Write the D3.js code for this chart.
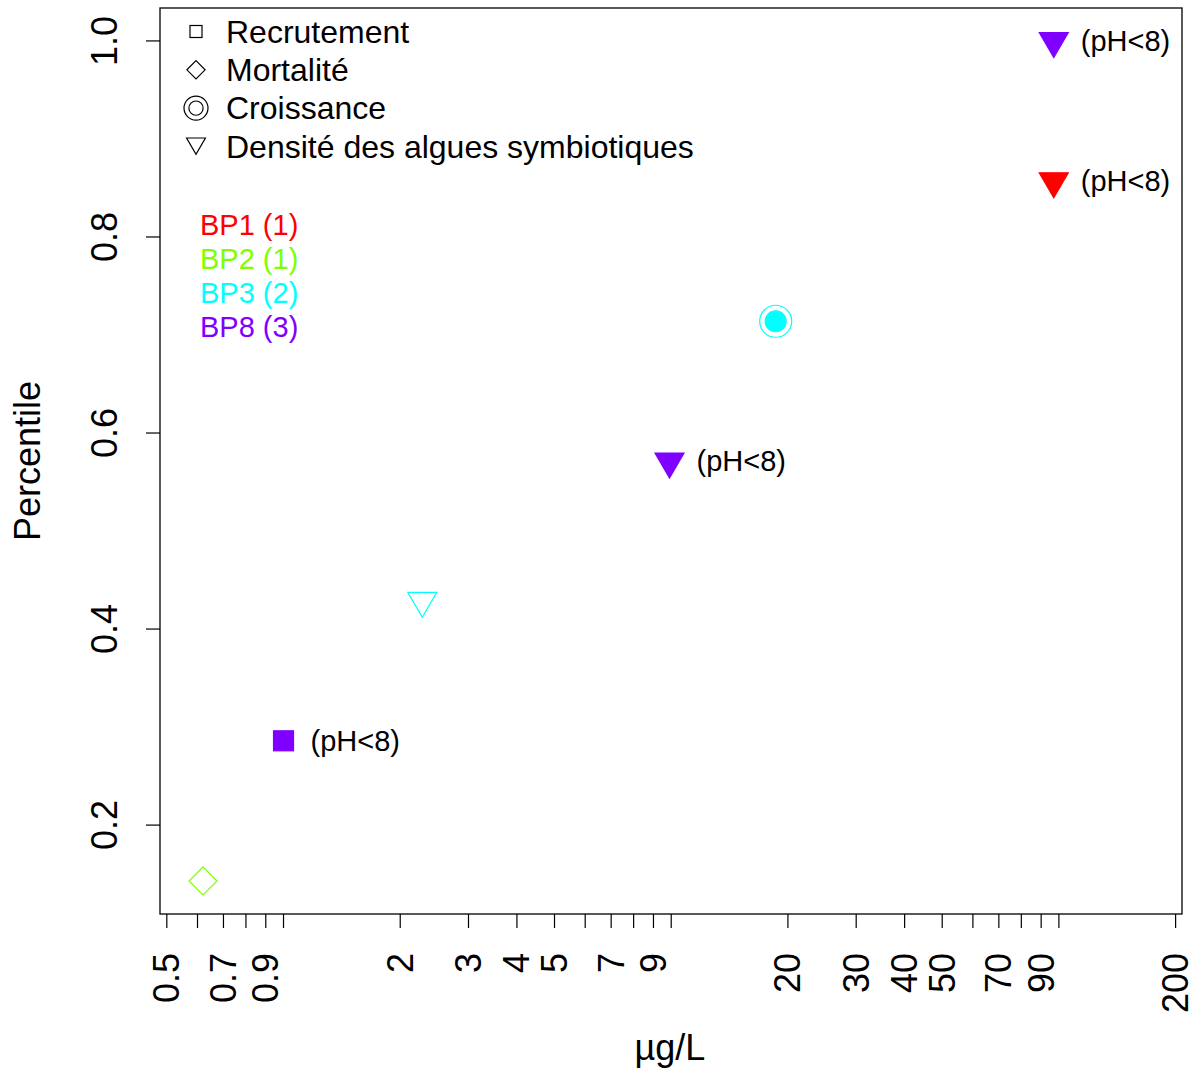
<!DOCTYPE html>
<html><head><meta charset="utf-8">
<script src="https://cdn.jsdelivr.net/npm/d3@7"></script>
<style>body{margin:0;background:#fff;} svg{display:block;} text{font-family:"Liberation Sans",Arial,sans-serif;}</style>
</head><body>
<svg id="chart" width="1198" height="1070"></svg>
<script>
// ---- data ----
const groups = ["BP1 (1)", "BP2 (1)", "BP3 (2)", "BP8 (3)"];
const groupColors = ["#FF0000", "#80FF00", "#00FFFF", "#8000FF"];
const endpoints = ["Recrutement", "Mortalité", "Croissance", "Densité des algues symbiotiques"];
const endpointShapes = ["square", "diamond", "circle", "triangle"];

const pointConc = [0.62, 1.0, 2.28, 9.9, 18.6, 97, 97];
const pointPct = [0.143, 0.286, 0.429, 0.571, 0.714, 0.857, 1.0];
const pointGroup = [1, 3, 2, 3, 2, 0, 3];
const pointEndpoint = [1, 0, 3, 3, 2, 3, 3];
const pointFilled = [false, true, false, true, true, true, true];
const pointNote = ["", "(pH<8)", "", "(pH<8)", "", "(pH<8)", "(pH<8)"];

const xTicks = [0.5,0.6,0.7,0.8,0.9,1,2,3,4,5,6,7,8,9,10,20,30,40,50,60,70,80,90,100,200];
const xTickLabels = {0.5:"0.5",0.7:"0.7",0.9:"0.9",2:"2",3:"3",4:"4",5:"5",7:"7",9:"9",20:"20",30:"30",40:"40",50:"50",70:"70",90:"90",200:"200"};
const yTicks = [0.2, 0.4, 0.6, 0.8, 1.0];
const yTickLabels = ["0.2", "0.4", "0.6", "0.8", "1.0"];

// ---- layout ----
const L = 160, R = 1182, T = 8, B = 914;
const svg = d3.select("#chart");
const x = d3.scaleLog().domain([Math.pow(10,-0.3186), Math.pow(10,2.3175)]).range([L, R]);
const y = d3.scaleLinear().domain([0.1093, 1.0336]).range([B, T]);

svg.append("rect").attr("x", L).attr("y", T).attr("width", R-L).attr("height", B-T)
  .attr("fill","none").attr("stroke","#000").attr("stroke-width",1.3);

// x axis
const xAxis = svg.append("g");
xTicks.forEach(t => {
  const px = x(t);
  xAxis.append("line").attr("x1",px).attr("x2",px).attr("y1",B).attr("y2",B+14).attr("stroke","#000").attr("stroke-width",1.2);
  if (xTickLabels[t]) {
    xAxis.append("text").attr("transform",`translate(${px+12.5},953) rotate(-90)`)
      .attr("text-anchor","end").attr("font-size",36).text(xTickLabels[t]);
  }
});
// y axis
yTicks.forEach((t,i) => {
  const py = y(t);
  svg.append("line").attr("x1",L-14).attr("x2",L).attr("y1",py).attr("y2",py).attr("stroke","#000").attr("stroke-width",1.2);
  svg.append("text").attr("transform",`translate(117,${py}) rotate(-90)`)
    .attr("text-anchor","middle").attr("font-size",36).text(yTickLabels[i]);
});
svg.append("text").attr("transform","translate(40,461) rotate(-90)").attr("text-anchor","middle").attr("font-size",36).text("Percentile");
svg.append("text").attr("x",670).attr("y",1060).attr("text-anchor","middle").attr("font-size",36).text("µg/L");

// symbol drawing
function drawSymbol(g, shape, cx, cy, s, color, filled) {
  const fill = filled ? color : "none";
  if (shape === "square") {
    g.append("rect").attr("x",cx-s).attr("y",cy-s).attr("width",2*s).attr("height",2*s)
      .attr("fill",fill).attr("stroke",color).attr("stroke-width",1.2);
  } else if (shape === "diamond") {
    const d = s*1.4;
    g.append("path").attr("d",`M${cx},${cy-d}L${cx+d},${cy}L${cx},${cy+d}L${cx-d},${cy}Z`)
      .attr("fill",fill).attr("stroke",color).attr("stroke-width",1.2);
  } else if (shape === "triangle") {
    const w = s*1.45, h = s*2.5;
    g.append("path").attr("d",`M${cx-w},${cy-h/3}L${cx+w},${cy-h/3}L${cx},${cy+2*h/3}Z`)
      .attr("fill",fill).attr("stroke",color).attr("stroke-width",1.2);
  } else if (shape === "circle") {
    g.append("circle").attr("cx",cx).attr("cy",cy).attr("r",s*1.6).attr("fill","none").attr("stroke",color).attr("stroke-width",1.2);
    g.append("circle").attr("cx",cx).attr("cy",cy).attr("r",s*(filled?1.05:0.95)).attr("fill",fill).attr("stroke",color).attr("stroke-width",1.2);
  }
}

// legend (endpoints)
const leg = svg.append("g");
endpoints.forEach((e,i) => {
  const cy = 31.5 + i*38.3;
  const sz = {square:6, diamond:6.5, circle:7.5, triangle:6.5}[endpointShapes[i]];
  drawSymbol(leg, endpointShapes[i], 196, endpointShapes[i]==="triangle"? cy-3 : cy, sz, "#000", false);
  leg.append("text").attr("x",226).attr("y",cy+11.2).attr("font-size",32).text(e);
});
// legend (groups)
groups.forEach((gname,i) => {
  const cy = 225 + i*34;
  svg.append("text").attr("x",200).attr("y",cy+10.3).attr("font-size",29).attr("fill",groupColors[i]).text(gname);
});

// points
const pts = svg.append("g");
pointConc.forEach((c,i) => {
  const cx = x(c), cy = y(pointPct[i]);
  const shape = endpointShapes[pointEndpoint[i]];
  drawSymbol(pts, shape, cx, cy, 10, groupColors[pointGroup[i]], pointFilled[i]);
  if (pointNote[i]) {
    pts.append("text").attr("x",cx+27).attr("y",cy+10).attr("font-size",29).attr("fill","#000").text(pointNote[i]);
  }
});
</script>
</body></html>
